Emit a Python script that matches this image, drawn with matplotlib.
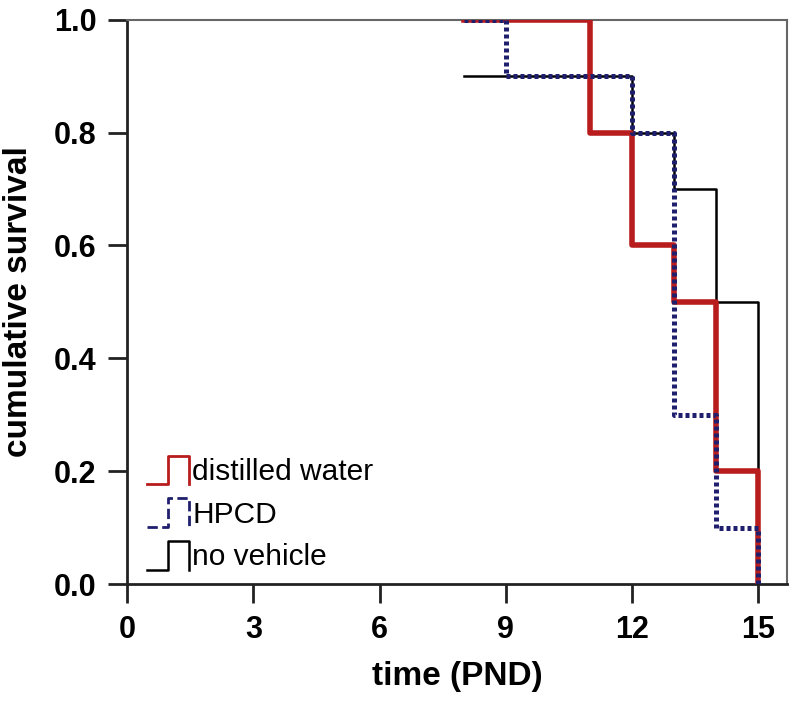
"""Kaplan-Meier style survival curves by vehicle group."""

import matplotlib
matplotlib.use('Agg')
import matplotlib.pyplot as plt
from matplotlib.legend_handler import HandlerBase
from matplotlib.lines import Line2D

# step data: time where each level starts, survival level
WATER_T = [8, 11, 12, 13, 14, 15, 15]
WATER_S = [1.0, 0.8, 0.6, 0.5, 0.2, 0.0, 0.0]
HPCD_T = [8, 9, 12, 13, 14, 15, 15]
HPCD_S = [1.0, 0.9, 0.8, 0.3, 0.1, 0.0, 0.0]
NOVEH_T = [8, 12, 13, 14, 15, 15]
NOVEH_S = [0.9, 0.8, 0.7, 0.5, 0.0, 0.0]

LABELS = ['distilled water', 'HPCD', 'no vehicle']
X_TICKS = [0, 3, 6, 9, 12, 15]
Y_TICKS = [0.0, 0.2, 0.4, 0.6, 0.8, 1.0]

plt.rcParams['font.family'] = ['Liberation Sans Narrow', 'Liberation Sans', 'DejaVu Sans']


class StepHandler(HandlerBase):
    """Legend glyph drawn as a small step: low left, up, across, down."""

    def create_artists(self, legend, orig_handle, xdescent, ydescent,
                       width, height, fontsize, trans):
        x0, y0 = -xdescent, -ydescent - 0.2 * height
        w, h = width, height * 1.35
        xs = [x0, x0 + 0.5 * w, x0 + 0.5 * w, x0 + w, x0 + w]
        ys = [y0, y0, y0 + h, y0 + h, y0]
        ln = Line2D(xs, ys, color=orig_handle.get_color(),
                    linestyle=orig_handle.get_linestyle(),
                    linewidth=min(orig_handle.get_linewidth(), 2.0),
                    transform=trans)
        return [ln]


fig = plt.figure(figsize=(8.0, 7.03), dpi=100)
ax = fig.add_axes([0.159, 0.169, 0.825, 0.803])

h_noveh, = ax.step(NOVEH_T, NOVEH_S, where='post', color='black', lw=1.8,
                   label=LABELS[2], zorder=2)
h_water, = ax.step(WATER_T, WATER_S, where='post', color='#b81c1c', lw=4.0,
                   label=LABELS[0], zorder=3)
h_hpcd, = ax.step(HPCD_T, HPCD_S, where='post', color='#1f1f6e', lw=3.6,
                  linestyle=(0, (0.8, 0.6)), label=LABELS[1], zorder=4)

ax.set_xlim(0, 15.69)
ax.set_ylim(0, 1.0)
ax.set_xticks(X_TICKS)
ax.set_yticks(Y_TICKS)
ax.set_yticklabels([f'{v:.1f}' for v in Y_TICKS])

for side in ('left', 'bottom'):
    ax.spines[side].set_linewidth(2.0)
    ax.spines[side].set_color('#222222')
for side in ('top', 'right'):
    ax.spines[side].set_linewidth(1.5)
    ax.spines[side].set_color('#666666')

ax.tick_params(axis='both', direction='out', length=14, width=2.0,
               color='#222222', pad=8)
for lab in ax.get_xticklabels() + ax.get_yticklabels():
    lab.set_fontsize(22)
    lab.set_fontweight('bold')

ax.set_xlabel('time (PND)', fontsize=24, fontweight='bold', labelpad=12)
ax.set_ylabel('cumulative survival', fontsize=24, fontweight='bold', labelpad=14)

ax.legend(handles=[h_water, h_hpcd, h_noveh], labels=LABELS,
          handler_map={Line2D: StepHandler()},
          loc='lower left', bbox_to_anchor=(-0.01, -0.025), frameon=False,
          prop={'family': ['Liberation Sans', 'DejaVu Sans'], 'size': 21.5},
          handlelength=1.4, handletextpad=0.1, labelspacing=0.5)

fig.savefig('out.png', dpi=100)
